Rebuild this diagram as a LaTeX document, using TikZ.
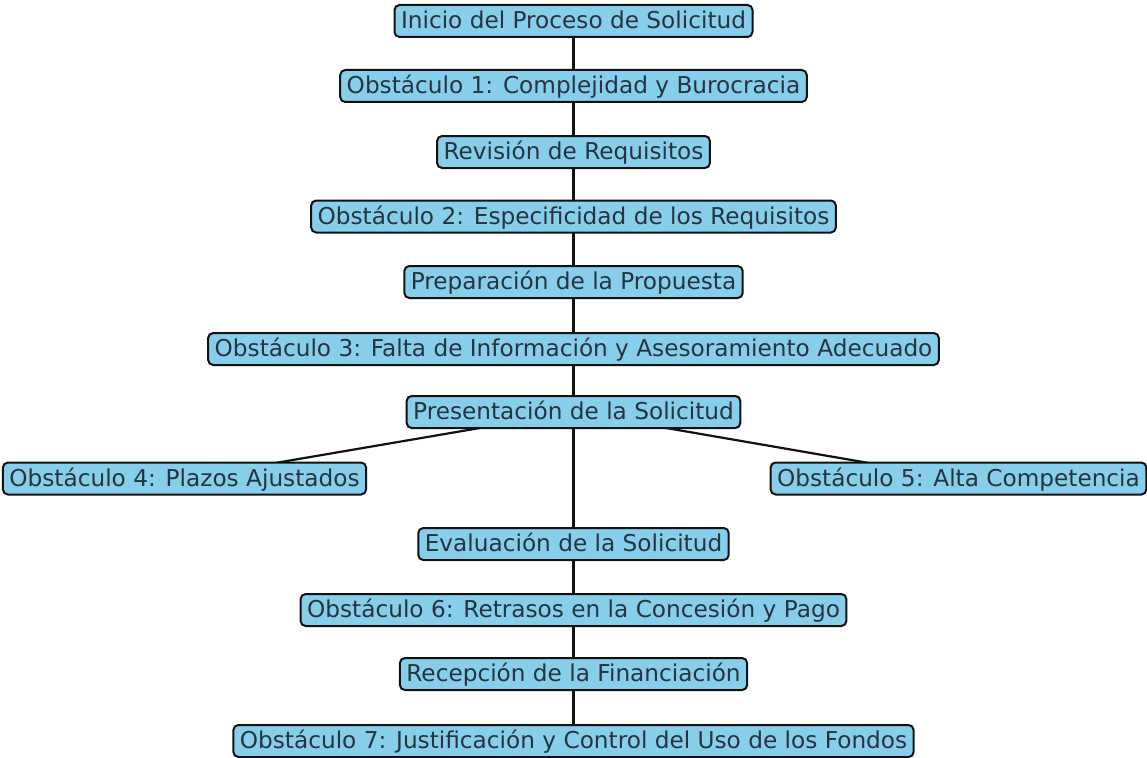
\documentclass[tikz,border=0pt]{standalone}
\usepackage{fontspec}
\setmainfont{DejaVu Sans}
\usetikzlibrary{backgrounds}
\definecolor{boxfill}{HTML}{87CEEB}
\definecolor{boxtext}{HTML}{26343F}
\definecolor{edgecol}{HTML}{111111}
\begin{document}
\begin{tikzpicture}[x=1pt,y=-1pt,
  stepbox/.style={draw=edgecol, fill=boxfill, line width=2pt, rounded corners=5pt,
    minimum height=32pt, inner xsep=6.5pt, inner ysep=2.5pt, text=boxtext,
    font=\fontsize{23.2}{26}\selectfont, text height=21pt, text depth=6pt},
  link/.style={draw=edgecol, line width=2.2pt}]
\useasboundingbox (0,0) rectangle (1147,757);
\node[stepbox] (n1)  at (573.5,21)    {Inicio del Proceso de Solicitud};
\node[stepbox] (n2)  at (573.5,86)    {Obstáculo 1: Complejidad y Burocracia};
\node[stepbox] (n3)  at (573.5,152)   {Revisión de Requisitos};
\node[stepbox] (n4)  at (573.5,216.5) {Obstáculo 2: Especificidad de los Requisitos};
\node[stepbox] (n5)  at (573.5,282)   {Preparación de la Propuesta};
\node[stepbox] (n6)  at (573.5,349)   {Obstáculo 3: Falta de Información y Asesoramiento Adecuado};
\node[stepbox] (n7)  at (573.5,412)   {Presentación de la Solicitud};
\node[stepbox] (n8)  at (184.5,478.5) {Obstáculo 4: Plazos Ajustados};
\node[stepbox] (n9)  at (958.5,478.5) {Obstáculo 5: Alta Competencia};
\node[stepbox] (n10) at (573.5,544)   {Evaluación de la Solicitud};
\node[stepbox] (n11) at (573.5,610)   {Obstáculo 6: Retrasos en la Concesión y Pago};
\node[stepbox] (n12) at (573.5,674)   {Recepción de la Financiación};
\node[stepbox] (n13) at (573.5,741)   {Obstáculo 7: Justificación y Control del Uso de los Fondos};
\begin{scope}[on background layer]
\fill[white] (0,0) rectangle (1147,757);
\draw[link] (n1.center) -- (n2.center);
\draw[link] (n2.center) -- (n3.center);
\draw[link] (n3.center) -- (n4.center);
\draw[link] (n4.center) -- (n5.center);
\draw[link] (n5.center) -- (n6.center);
\draw[link] (n6.center) -- (n7.center);
\draw[link] (n7.center) -- (n8.center);
\draw[link] (n7.center) -- (n9.center);
\draw[link] (n7.center) -- (n10.center);
\draw[link] (n10.center) -- (n11.center);
\draw[link] (n11.center) -- (n12.center);
\draw[link] (n12.center) -- (n13.center);
\end{scope}
\end{tikzpicture}
\end{document}
